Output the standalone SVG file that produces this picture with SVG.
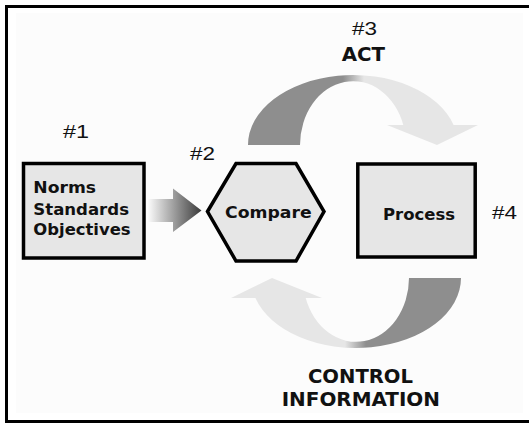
<svg xmlns="http://www.w3.org/2000/svg" width="529" height="423" viewBox="0 0 529 423">
  <defs>
    <linearGradient id="gIn" gradientUnits="userSpaceOnUse" x1="147" y1="0" x2="201" y2="0">
      <stop offset="0" stop-color="#ffffff"/>
      <stop offset="1" stop-color="#3c3c3c"/>
    </linearGradient>
    <linearGradient id="gArc" gradientUnits="userSpaceOnUse" x1="343" y1="0" x2="364" y2="0">
      <stop offset="0" stop-color="#8e8e8e"/>
      <stop offset="1" stop-color="#e6e6e6"/>
    </linearGradient>
    <path id="arc" d="M 248 145 A 105 70 0 0 1 453.6 125 L 478 125 L 437 145 L 387 125 L 403.3 125 A 53 64 0 0 0 300 145 Z"/>
  </defs>
  <style>
    .frame { fill: none; stroke: #000; stroke-width: 3; }
    .shape { fill: #e6e6e6; stroke: #000; stroke-width: 3.5; stroke-linejoin: miter; }
    .lbl { font-family: "DejaVu Sans", "Liberation Sans", sans-serif; font-weight: bold; font-size: 16px; fill: #111; }
    .num { font-family: "Liberation Sans", Arial, sans-serif; font-size: 19px; fill: #111; }
    .big { font-family: "DejaVu Sans", "Liberation Sans", sans-serif; font-weight: bold; font-size: 19px; fill: #111; }
  </style>
  <rect x="0" y="0" width="529" height="423" fill="#ffffff"/>
  <rect x="16" y="13" width="507" height="400" fill="#fcfcfc"/>
  <path class="frame" d="M 529 6.5 H 6.5 V 421.5 H 529"/>

  <g id="connectors">
    <polygon id="arrow-in" fill="url(#gIn)" points="147,199 173,199 173,188.5 201.5,210.5 173,232 173,222 147,222"/>
    <g id="act-arrow">
      <use href="#arc" fill="url(#gArc)"/>
      <text class="big" x="341.7" y="60.7" textLength="43.3" lengthAdjust="spacingAndGlyphs">ACT</text>
    </g>
    <g id="control-arrow">
      <use href="#arc" fill="url(#gArc)" transform="rotate(180 354.5 211.5)"/>
      <text class="big" x="308" y="383" textLength="105" lengthAdjust="spacingAndGlyphs">CONTROL</text>
      <text class="big" x="281.7" y="406" textLength="158.3" lengthAdjust="spacingAndGlyphs">INFORMATION</text>
    </g>
    <text class="num" x="352" y="35" textLength="25" lengthAdjust="spacingAndGlyphs">#3</text>
  </g>

  <g id="norms">
    <rect class="shape" x="23.5" y="163.5" width="120.5" height="94.5"/>
    <text class="lbl" x="33.3" y="193.3" textLength="62.7" lengthAdjust="spacingAndGlyphs">Norms</text>
    <text class="lbl" x="33.3" y="215" textLength="95.7" lengthAdjust="spacingAndGlyphs">Standards</text>
    <text class="lbl" x="33.3" y="235" textLength="97.3" lengthAdjust="spacingAndGlyphs">Objectives</text>
    <text class="num" x="63" y="138" textLength="26" lengthAdjust="spacingAndGlyphs">#1</text>
  </g>

  <g id="compare">
    <polygon class="shape" points="207.5,211.5 236,163.5 296,163.5 324,211.5 296,261 236,261"/>
    <text class="lbl" x="225" y="218" textLength="86.7" lengthAdjust="spacingAndGlyphs">Compare</text>
    <text class="num" x="190" y="160" textLength="25" lengthAdjust="spacingAndGlyphs">#2</text>
  </g>

  <g id="process">
    <rect class="shape" x="357.8" y="164" width="117.4" height="93"/>
    <text class="lbl" x="383" y="220" textLength="72" lengthAdjust="spacingAndGlyphs">Process</text>
    <text class="num" x="492" y="219" textLength="25" lengthAdjust="spacingAndGlyphs">#4</text>
  </g>
</svg>
